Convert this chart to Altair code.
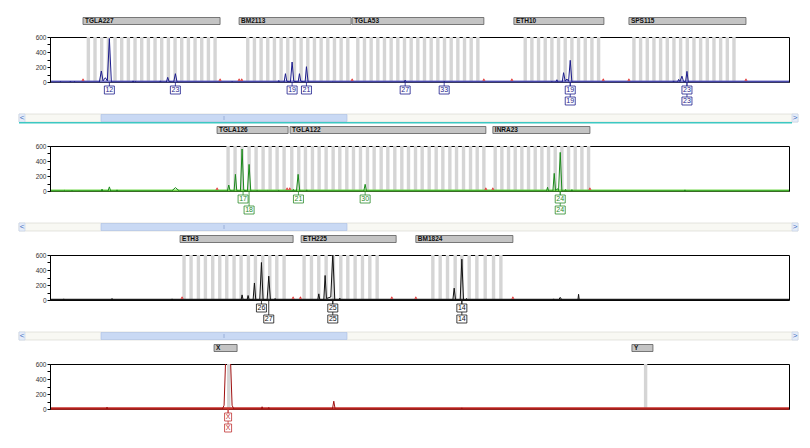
import altair as alt
import pandas as pd

X_DOMAIN = [66.1, 287.7]
Y_DOMAIN = [0, 600]
W, H = 739, 45
FONT = "Liberation Sans"

X_TICKS = [70, 90, 110, 130, 150, 170, 190, 210, 230, 250, 270]
Y_TICKS = [0, 100, 200, 300, 400, 500, 600]

# ---------------- Panel 1 (blue dye) ----------------
p1_x = [66.1, 69.0, 69.2, 69.4, 72.0, 72.2, 72.4, 73.3, 73.5, 73.7,
        80.9, 81.5, 82.0, 82.7, 83.3, 83.9, 84.5,
        90.8, 91.0, 91.2, 91.5, 91.7, 91.9,
        99.0, 99.2, 99.4, 101.0, 101.4, 101.8, 103.2, 103.7, 104.2,
        120.5, 120.7, 120.9,
        134.5, 134.7, 134.9, 136.3, 136.7, 137.1, 138.2, 138.7, 139.2, 140.5, 140.9, 141.3, 142.6, 143.0, 143.5,
        150.5, 150.7, 150.9,
        172.3, 172.6, 172.9,
        184.1, 184.3, 184.5,
        216.4, 216.6, 216.8, 217.8, 218.1, 218.4, 219.7, 220.1, 220.6, 221.1, 221.6, 222.1, 222.6,
        252.9, 253.1, 253.3, 254.3, 254.6, 255.0, 255.6, 256.1, 256.7, 257.1, 257.5,
        287.7]
p1_y = [0, 0, 10, 0, 0, 12, 0, 0, 10, 0,
        0, 147, 15, 57, 15, 580, 0,
        0, 15, 0, 0, 10, 0,
        0, 15, 0, 0, 62, 5, 0, 111, 0,
        0, 10, 0,
        0, 20, 0, 0, 111, 10, 0, 266, 10, 0, 111, 10, 0, 204, 0,
        0, 6, 0,
        0, 25, 0,
        0, 10, 0,
        0, 10, 0, 0, 30, 0, 0, 124, 10, 40, 10, 289, 0,
        0, 15, 0, 0, 35, 5, 78, 5, 5, 142, 0,
        0]
p1_bins = [77.6, 79.6, 81.6, 83.6, 85.6, 87.6, 89.6, 91.6, 93.6, 95.6, 97.6, 99.6, 101.6, 103.6, 105.6,
           107.6, 109.6, 111.6, 113.6, 115.6,
           125.4, 127.4, 129.4, 131.4, 133.4, 135.4, 137.4, 139.4, 141.4, 143.4, 145.4, 147.4, 149.4,
           151.4, 153.4, 155.4,
           158.4, 160.4, 162.4, 164.4, 166.4, 168.4, 170.4, 172.4, 174.4, 176.4, 178.4, 180.4, 182.4,
           184.4, 186.4, 188.4, 190.4, 192.4, 194.4,
           208.6, 210.6, 212.6, 214.6, 216.6, 218.6, 220.6, 222.6, 224.6, 226.6, 228.6, 230.6,
           241.2, 243.2, 245.2, 247.2, 249.2, 251.2, 253.2, 255.2, 257.2, 259.2, 261.2, 263.2, 265.2,
           267.2, 269.2, 271.2]
p1_markers = ["TGLA227", "BM2113", "TGLA53", "ETH10", "SPS115"]
p1_mstart = [76.0, 122.8, 156.7, 205.2, 239.7]
p1_mend = [117.1, 156.4, 196.2, 232.2, 274.8]
p1_red = [76.0, 117.1, 122.8, 123.6, 156.7, 196.2, 204.6, 232.0, 239.7, 274.8]
p1_row1_text = ["12", "23", "19", "21", "27", "33", "19", "23"]
p1_row1_pos = [83.9, 103.7, 138.7, 143.0, 172.6, 184.3, 222.1, 257.1]
p1_row2_text = ["19", "23"]
p1_row2_pos = [222.1, 257.1]

# ---------------- Panel 2 (green dye) ----------------
p2_x = [66.1, 70.3, 70.5, 70.7, 72.5, 72.7, 72.9, 74.6, 74.8, 75.0,
        81.5, 81.7, 81.9, 83.5, 83.9, 84.3, 86.0, 86.2, 86.4,
        102.6, 103.7, 104.9,
        119.3, 119.7, 120.1, 121.3, 121.7, 122.1, 123.2, 123.7, 124.2, 125.3, 125.8, 126.3,
        128.0, 128.2, 128.4, 131.0, 131.2, 131.4, 134.5, 134.7, 134.9,
        138.9, 139.1, 139.3, 140.0, 140.5, 141.0, 142.9, 143.1, 143.3,
        160.2, 160.6, 161.0,
        215.0, 215.3, 215.6, 216.9, 217.3, 217.7, 218.3, 218.6, 219.1, 219.6,
        220.5, 220.7, 220.9, 222.4, 222.6, 222.8,
        256.3, 256.5, 256.7,
        287.7]
p2_y = [0, 0, 8, 0, 0, 10, 0, 0, 8, 0,
        0, 25, 0, 0, 55, 0, 0, 15, 0,
        0, 45, 0,
        0, 80, 5, 0, 222, 5, 0, 560, 10, 0, 355, 0,
        0, 10, 0, 0, 8, 0, 0, 10, 0,
        0, 20, 0, 0, 222, 0, 0, 15, 0,
        0, 89, 0,
        0, 50, 0, 0, 235, 5, 30, 5, 515, 0,
        0, 20, 0, 0, 18, 0,
        0, 15, 0,
        0]
p2_bins = [119.5, 121.6, 123.7, 125.8, 127.9, 130.0, 132.1, 134.2, 136.3,
           138.6, 140.7, 142.7, 144.8, 146.8, 148.9, 151.0, 153.0, 155.1, 157.1, 159.2, 161.3, 163.3,
           165.4, 167.4, 169.5, 171.6, 173.6, 175.7, 177.7, 179.8, 181.9, 183.9, 186.0, 188.0, 190.1,
           192.2, 194.2, 196.2,
           199.6, 201.6, 203.6, 205.6, 207.6, 209.6, 211.6, 213.6, 215.6, 217.6, 219.6, 221.6, 223.6,
           225.6, 227.6]
p2_markers = ["TGLA126", "TGLA122", "INRA23"]
p2_mstart = [116.2, 138.1, 198.9]
p2_mend = [137.5, 196.8, 228.0]
p2_red = [116.2, 137.2, 138.0, 196.8, 198.9, 228.0]
p2_row1_text = ["17", "21", "30", "24"]
p2_row1_pos = [124.0, 140.6, 160.6, 219.1]
p2_row2_text = ["18", "24"]
p2_row2_pos = [125.8, 219.1]

# ---------------- Panel 3 (black dye) ----------------
p3_x = [66.1, 70.0, 70.2, 70.4, 84.5, 84.7, 84.9, 102.5, 102.7, 102.9,
        123.4, 123.7, 124.0, 125.2, 125.5, 125.8, 127.0, 127.4, 127.8, 129.0, 129.5, 130.0, 131.2, 131.7, 132.2,
        133.4, 133.6, 133.8,
        146.4, 146.7, 147.0, 148.2, 148.6, 149.0, 150.3, 150.9, 151.5,
        152.8, 153.0, 153.2,
        186.9, 187.3, 187.7, 189.1, 189.6, 190.1, 190.8, 191.0, 191.2,
        216.9, 217.1, 217.3, 218.6, 219.1, 219.6, 224.4, 224.6, 224.8,
        287.7]
p3_y = [0, 0, 15, 0, 0, 20, 0, 0, 15, 0,
        0, 68, 5, 0, 60, 5, 0, 227, 5, 0, 500, 5, 0, 318, 0,
        0, 20, 0,
        0, 82, 5, 0, 327, 20, 40, 620, 0,
        0, 25, 0,
        0, 158, 5, 0, 545, 0, 0, 20, 0,
        0, 15, 0, 0, 35, 0, 0, 76, 0,
        0]
p3_bins = [106.3, 108.4, 110.6, 112.7, 114.9, 117.0, 119.1, 121.3, 123.4, 125.6, 127.7, 129.9, 132.0,
           134.1, 136.3,
           142.3, 144.5, 146.7, 148.9, 151.1, 153.3, 155.4, 157.6, 159.8, 162.0, 164.2,
           180.9, 183.1, 185.3, 187.6, 189.6, 191.8, 194.1, 196.6, 199.1, 201.3]
p3_markers = ["ETH3", "ETH225", "BM1824"]
p3_mstart = [105.1, 141.4, 175.8]
p3_mend = [139.0, 169.9, 204.9]
p3_red = [105.7, 139.0, 141.2, 168.6, 175.8, 204.9]
p3_row1_text = ["26", "25", "14"]
p3_row1_pos = [129.5, 150.9, 189.6]
p3_row2_text = ["27", "25", "14"]
p3_row2_pos = [131.7, 150.9, 189.6]

# ---------------- Panel 4 (red dye) ----------------
p4_x = [66.1, 83.0, 83.2, 83.4, 117.8, 118.3, 118.8, 120.2, 120.7, 121.2,
        129.5, 129.7, 129.9, 131.5, 131.7, 131.9, 150.8, 151.2, 151.6, 189.4, 189.6, 189.8, 287.7]
p4_y = [0, 0, 25, 0, 0, 50, 700, 700, 50, 0,
        0, 30, 0, 0, 20, 0, 0, 104, 0, 0, 15, 0, 0]
p4_bins = [119.7, 244.7]
p4_markers = ["X", "Y"]
p4_mstart = [115.3, 240.6]
p4_mend = [122.2, 246.9]
p4_red = []
p4_row1_text = ["X"]
p4_row1_pos = [119.5]
p4_row2_text = ["X"]
p4_row2_pos = [119.5]


def scroll_layers(cyan):
    base = alt.Chart(pd.DataFrame({"k": [0]}))
    L = [
        base.mark_rect(fill="#f8f8f3", stroke="#d4d4cc", strokeWidth=0.6).encode(
            x=alt.value(-31), x2=alt.value(748), y=alt.value(-32), y2=alt.value(-24)),
        base.mark_rect(fill="#c9d9f4", stroke="#a9bde4", strokeWidth=0.6).encode(
            x=alt.value(51), x2=alt.value(297), y=alt.value(-31.5), y2=alt.value(-24.5)),
        base.mark_rule(color="#8fa6d4", strokeWidth=0.8).encode(
            x=alt.value(174), y=alt.value(-30), y2=alt.value(-26)),
        base.mark_rect(fill="#e6edf8", stroke="#b8c8e6", strokeWidth=0.5).encode(
            x=alt.value(-31), x2=alt.value(-25), y=alt.value(-32), y2=alt.value(-24)),
        base.mark_rect(fill="#e6edf8", stroke="#b8c8e6", strokeWidth=0.5).encode(
            x=alt.value(742), x2=alt.value(748), y=alt.value(-32), y2=alt.value(-24)),
        base.mark_text(text="<", color="#3d6cc0", fontSize=8, font=FONT).encode(
            x=alt.value(-28), y=alt.value(-28)),
        base.mark_text(text=">", color="#3d6cc0", fontSize=8, font=FONT).encode(
            x=alt.value(745), y=alt.value(-28)),
    ]
    if cyan:
        L.append(base.mark_rule(color="#3cc8c2", strokeWidth=1.5).encode(
            x=alt.value(-31), x2=alt.value(742), y=alt.value(-23.2)))
    return L


def panel(tx, ty, bins, mnames, mstart, mend, reds, r1t, r1p, r2t, r2p,
          line_color, base_color, base_width, lab_color, half_w, scroll=None):
    xs = alt.Scale(domain=X_DOMAIN, nice=False, zero=False)
    ys = alt.Scale(domain=Y_DOMAIN, nice=False)
    x_axis = alt.Axis(orient="top", values=X_TICKS,
                      labelExpr="datum.value % 40 == 30 ? datum.label : ''",
                      tickSize=3, labelFontSize=6.5, labelPadding=0, title=None, grid=False,
                      domainColor="black", tickColor="black", labelColor="#333",
                      labelFont=FONT, labelOverlap=False, labelFlush=False, zindex=1)
    y_axis = alt.Axis(values=Y_TICKS,
                      labelExpr="datum.value % 200 == 0 ? datum.label : ''",
                      tickSize=3, labelFontSize=6.5, labelPadding=1, title=None, grid=False,
                      domainColor="black", tickColor="black", labelColor="#333",
                      labelFont=FONT, labelOverlap=False, labelFlush=False, zindex=1)
    one = alt.Chart(pd.DataFrame({"k": [0]}))
    layers = []
    if scroll is not None:
        layers += scroll_layers(scroll)
    layers.append(
        alt.Chart(pd.DataFrame({"c": bins})).mark_rect(
            color="#d5d5d5", xOffset=-1.7, x2Offset=1.7).encode(
            x=alt.X("c:Q", scale=xs, axis=None), x2="c:Q",
            y=alt.value(0), y2=alt.value(H)))
    layers.append(one.mark_rule(color=base_color, strokeWidth=base_width).encode(
        x=alt.value(0), x2=alt.value(W), y=alt.value(H - 0.6)))
    tdf = pd.DataFrame({"x": tx, "y": ty, "i": list(range(len(tx)))})
    layers.append(
        alt.Chart(tdf).mark_line(color=line_color, strokeWidth=1, clip=True).encode(
            x=alt.X("x:Q", scale=xs, axis=x_axis),
            y=alt.Y("y:Q", scale=ys, axis=y_axis),
            order="i:Q"))
    if reds:
        layers.append(
            alt.Chart(pd.DataFrame({"r": reds})).mark_point(
                shape="triangle-up", filled=True, color="#e23838", size=10, opacity=1).encode(
                x=alt.X("r:Q", scale=xs, axis=None), y=alt.value(H - 2.5)))
    r1 = pd.DataFrame({"t": r1t, "p": r1p})
    r2 = pd.DataFrame({"t": r2t, "p": r2p})
    layers.append(alt.Chart(r2).mark_rule(color=lab_color, strokeWidth=0.8).encode(
        x=alt.X("p:Q", scale=xs, axis=None), y=alt.value(H), y2=alt.value(H + 15)))
    layers.append(alt.Chart(r1).mark_rule(color=lab_color, strokeWidth=0.8).encode(
        x=alt.X("p:Q", scale=xs, axis=None), y=alt.value(H), y2=alt.value(H + 4)))
    for df, top in ((r1, H + 4), (r2, H + 15)):
        layers.append(alt.Chart(df).mark_rect(
            fill="white", stroke=lab_color, strokeWidth=0.8,
            xOffset=-half_w, x2Offset=half_w).encode(
            x=alt.X("p:Q", scale=xs, axis=None), x2="p:Q",
            y=alt.value(top), y2=alt.value(top + 8)))
        layers.append(alt.Chart(df).mark_text(
            fontSize=7, color=lab_color, font=FONT, baseline="middle").encode(
            x=alt.X("p:Q", scale=xs, axis=None), y=alt.value(top + 4.3), text="t:N"))
    mdf = pd.DataFrame({"m": mnames, "s": mstart, "e": mend})
    layers.append(alt.Chart(mdf).mark_rect(
        fill="#c4c4c4", stroke="#5c5c5c", strokeWidth=0.8).encode(
        x=alt.X("s:Q", scale=xs, axis=None), x2="e:Q",
        y=alt.value(-19.5), y2=alt.value(-12.5)))
    layers.append(alt.Chart(mdf).mark_text(
        align="left", dx=2, fontSize=6.5, fontWeight="bold", font=FONT,
        baseline="middle", color="#111").encode(
        x=alt.X("s:Q", scale=xs, axis=None), y=alt.value(-15.8), text="m:N"))
    return alt.layer(*layers).properties(width=W, height=H)


c1 = panel(p1_x, p1_y, p1_bins, p1_markers, p1_mstart, p1_mend, p1_red,
           p1_row1_text, p1_row1_pos, p1_row2_text, p1_row2_pos,
           "#1c1c8c", "#7474c8", 2, "#1c1c8c", 5)
c2 = panel(p2_x, p2_y, p2_bins, p2_markers, p2_mstart, p2_mend, p2_red,
           p2_row1_text, p2_row1_pos, p2_row2_text, p2_row2_pos,
           "#1a8a1a", "#72d84a", 2, "#2a8a2a", 5, scroll=True)
c3 = panel(p3_x, p3_y, p3_bins, p3_markers, p3_mstart, p3_mend, p3_red,
           p3_row1_text, p3_row1_pos, p3_row2_text, p3_row2_pos,
           "#111111", "#222222", 1.5, "#111111", 5, scroll=False)
c4 = panel(p4_x, p4_y, p4_bins, p4_markers, p4_mstart, p4_mend, p4_red,
           p4_row1_text, p4_row1_pos, p4_row2_text, p4_row2_pos,
           "#a01010", "#c4302a", 2.5, "#c03030", 3.5, scroll=False)

chart = alt.vconcat(c1, c2, c3, c4, spacing=64, bounds="flush").properties(
    padding={"left": 17, "top": 16, "right": 5, "bottom": 5},
    background="white",
).configure_view(stroke="black", strokeWidth=1)

chart.save("out.html", embed_options={"renderer": "svg", "actions": False})
